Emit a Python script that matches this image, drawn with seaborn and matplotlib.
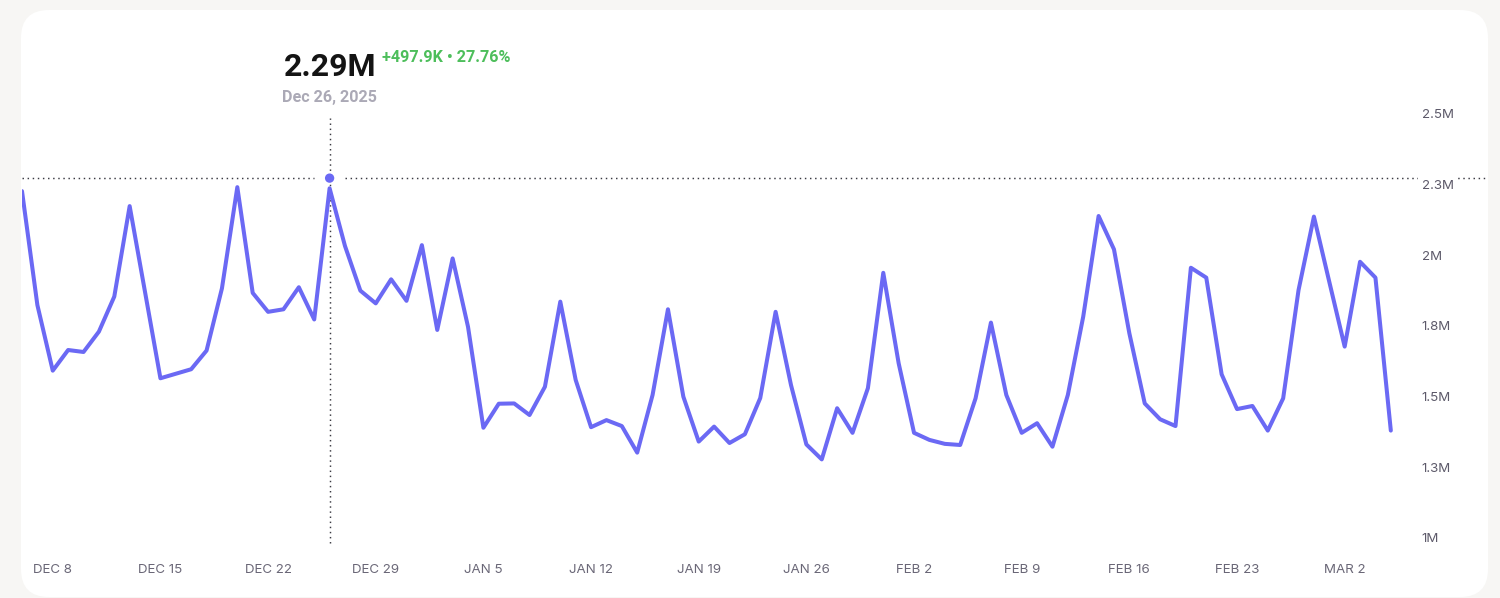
import numpy as np
import pandas as pd
import matplotlib
matplotlib.use("Agg")
import matplotlib.pyplot as plt
from matplotlib.patches import FancyBboxPatch
import seaborn as sns

# ---------------- data ----------------
start_date = "2025-12-06"
values_m = [
    2.227, 1.824, 1.592, 1.665, 1.658, 1.730, 1.854, 2.174, 1.870, 1.565,
    1.581, 1.597, 1.663, 1.883, 2.241, 1.867, 1.800, 1.809, 1.887, 1.773,
    2.237, 2.033, 1.875, 1.830, 1.915, 1.839, 2.036, 1.736, 1.989, 1.747,
    1.390, 1.475, 1.476, 1.435, 1.535, 1.836, 1.559, 1.392, 1.417, 1.396,
    1.302, 1.506, 1.809, 1.500, 1.341, 1.394, 1.336, 1.367, 1.495, 1.800,
    1.541, 1.331, 1.278, 1.459, 1.372, 1.530, 1.938, 1.618, 1.372, 1.347,
    1.333, 1.329, 1.494, 1.762, 1.506, 1.372, 1.406, 1.323, 1.506, 1.783,
    2.139, 2.021, 1.724, 1.476, 1.420, 1.396, 1.956, 1.921, 1.579, 1.456,
    1.467, 1.380, 1.494, 1.877, 2.137, 1.906, 1.677, 1.977, 1.921, 1.380,
]
x_tick_dates = ["2025-12-08", "2025-12-15", "2025-12-22", "2025-12-29",
                "2026-01-05", "2026-01-12", "2026-01-19", "2026-01-26",
                "2026-02-02", "2026-02-09", "2026-02-16", "2026-02-23",
                "2026-03-02"]
x_tick_labels = ["DEC 8", "DEC 15", "DEC 22", "DEC 29", "JAN 5", "JAN 12",
                 "JAN 19", "JAN 26", "FEB 2", "FEB 9", "FEB 16", "FEB 23",
                 "MAR 2"]
y_ticks = [1.0, 1.25, 1.5, 1.75, 2.0, 2.25, 2.5]
y_tick_labels = ["1M", "1.3M", "1.5M", "1.8M", "2M", "2.3M", "2.5M"]

highlight_date = "2025-12-26"
highlight_marker_value = 2.273
highlight_value_text = "2.29M"
highlight_change_text = "+497.9K \u2022 27.76%"
highlight_date_text = "Dec 26, 2025"

dates = pd.date_range(start_date, periods=len(values_m), freq="D")
df = pd.DataFrame({"date": dates, "value": values_m})

# ---------------- style ----------------
sns.set_theme(style="white")
plt.rcParams["font.family"] = ["Inter", "DejaVu Sans"]

LINE = "#6B69F4"
BG = "#F7F6F4"

W, H = 1500, 598
fig = plt.figure(figsize=(W / 100, H / 100), dpi=100)
fig.patch.set_facecolor(BG)

# white rounded card
card = FancyBboxPatch((21 / 100, 1 / 100), (1488 - 21) / 100, (597 - 10) / 100,
                      boxstyle="round,pad=0,rounding_size=0.28",
                      transform=fig.dpi_scale_trans, fc="white", ec="none",
                      zorder=0)
fig.add_artist(card)

def px(x, y):
    return x / W, 1 - y / H

ax_left, ax_right, ax_top, ax_bottom = 22, 1400, 110, 545
ax = fig.add_axes([ax_left / W, 1 - ax_bottom / H,
                   (ax_right - ax_left) / W, (ax_bottom - ax_top) / H])
ax.set_facecolor("none")
for s in ax.spines.values():
    s.set_visible(False)

sns.lineplot(data=df, x="date", y="value", ax=ax, color=LINE,
             linewidth=2.9, zorder=3)

# scales: 15.38 px per day, 282.7 px per 1M
px_per_day = 15.38
px_per_m = 282.7
x0 = pd.Timestamp(start_date)
ax.set_xlim(x0, x0 + pd.Timedelta(days=(ax_right - ax_left) / px_per_day))
ax.set_ylim(1 - (ax_bottom - 538) / px_per_m, 1 + (538 - ax_top) / px_per_m)

ax.set_xticks(pd.to_datetime(x_tick_dates))
ax.set_xticklabels(x_tick_labels)
ax.set_yticks(y_ticks)
ax.set_yticklabels(y_tick_labels)
ax.yaxis.tick_right()
ax.tick_params(axis="x", length=0, pad=14, labelsize=9.6, labelcolor="#6A6777")
ax.tick_params(axis="y", length=0, pad=15.5, labelsize=9.6, labelcolor="#5D5A6A")
for lab in ax.get_yticklabels():
    lab.set_horizontalalignment("left")
    lab.set_bbox(dict(fc="white", ec="none", pad=2.5))
ax.set_xlabel("")
ax.set_ylabel("")
ax.grid(False)
ax.set_axisbelow(False)

# highlight crosshair
hd = pd.Timestamp(highlight_date)
dot_kw = dict(color="#3A3A42", linewidth=1.05, linestyle=(0, (1, 2.5)))
ax.plot([hd, hd], [1 - (543 - 538) / px_per_m, 1 + (538 - 118) / px_per_m],
        zorder=1, clip_on=False, **dot_kw)
gap = pd.Timedelta(days=1.0)
x_right_end = x0 + pd.Timedelta(days=(1485 - ax_left) / px_per_day)
ax.plot([x0, hd - gap], [highlight_marker_value] * 2, zorder=1, clip_on=False, **dot_kw)
ax.plot([hd + gap, x_right_end], [highlight_marker_value] * 2, zorder=1,
        clip_on=False, **dot_kw)
ax.scatter([hd], [highlight_marker_value], s=45, color=LINE, zorder=5,
           edgecolors="none", clip_on=False)

# header texts
hdr_font = ["Roboto", "DejaVu Sans"]
fig.text(*px(283.5, 76.5), highlight_value_text, fontsize=23, fontweight="bold",
         color="#141414", va="baseline", ha="left", family=hdr_font)
fig.text(*px(381.5, 62.5), highlight_change_text, fontsize=11.6,
         fontweight="bold", color="#4DBE5B", va="baseline", ha="left",
         family=hdr_font)
fig.text(*px(282.5, 102.5), highlight_date_text, fontsize=11.6,
         fontweight="bold", color="#ABA9B6", va="baseline", ha="left",
         family=hdr_font)

fig.savefig("out.png", dpi=100, facecolor=BG)
